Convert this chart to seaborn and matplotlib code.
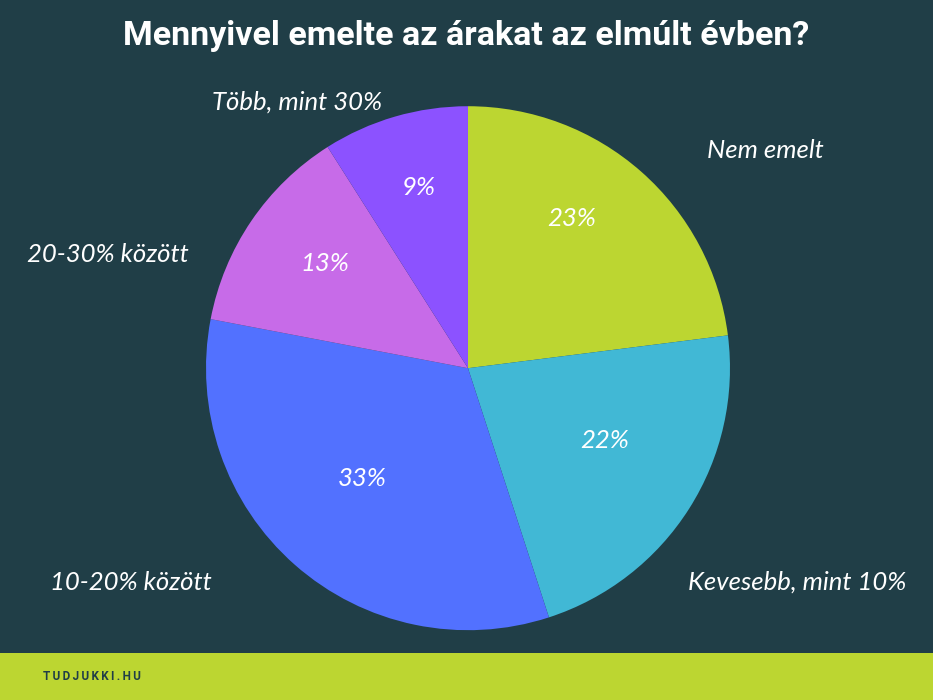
import matplotlib
matplotlib.use("Agg")
import matplotlib.pyplot as plt
import seaborn as sns

# data
categories = ["Nem emelt", "Kevesebb, mint 10%", "10-20% között", "20-30% között", "Több, mint 30%"]
shares = [23, 22, 33, 13, 9]
colors = ["#bcd631", "#41b8d5", "#5271ff", "#c76be8", "#8c52ff"]
title = "Mennyivel emelte az árakat az elmúlt évben?"
footer = "TUDJUKKI.HU"

# text anchors (in pie-radius units)
label_xy = [(1.137, 0.832), (1.256, -0.817), (-1.286, -0.817), (-1.374, 0.435), (-0.653, 1.015)]
pct_xy = [(0.397, 0.573), (0.523, -0.275), (-0.405, -0.42), (-0.546, 0.40), (-0.19, 0.69)]

bg = "#203e47"
sns.set_theme(style="white", rc={"figure.facecolor": bg, "axes.facecolor": bg})

fig = plt.figure(figsize=(9.33, 7), dpi=100)
fig.patch.set_facecolor(bg)

ax = fig.add_axes([0.5016 - 0.2808, 0.474 - 0.3743, 0.5616, 0.7486])
tp = dict(color="white", fontsize=18.5, fontstyle="italic", family="Lato")
wedges, texts, autotexts = ax.pie(
    shares, colors=colors, labels=categories, startangle=90, counterclock=False,
    autopct="%d%%", textprops=tp, wedgeprops=dict(linewidth=0),
)
for t, xy in zip(texts, label_xy):
    t.set_position(xy); t.set_ha("center"); t.set_va("center")
for t, xy in zip(autotexts, pct_xy):
    t.set_position(xy); t.set_ha("center"); t.set_va("center")
ax.set_aspect("equal")
ax.set_xlim(-1, 1)
ax.set_ylim(-1, 1)
ax.axis("off")

fig.text(0.5, 0.948, title, ha="center", va="center", color="white",
         fontsize=24.5, fontweight="bold", family="Roboto")

# footer bar
bar = fig.add_axes([0, 0, 1, 0.067])
bar.set_facecolor("#bcd631")
bar.set_xticks([]); bar.set_yticks([])
for s in bar.spines.values():
    s.set_visible(False)
bar.text(0.046, 0.5, "\u2009".join(footer), transform=bar.transAxes,
         ha="left", va="center", color="#203e47", fontsize=8.5, fontweight="bold",
         family="Roboto")

fig.savefig("out.png", dpi=100, facecolor=bg)
